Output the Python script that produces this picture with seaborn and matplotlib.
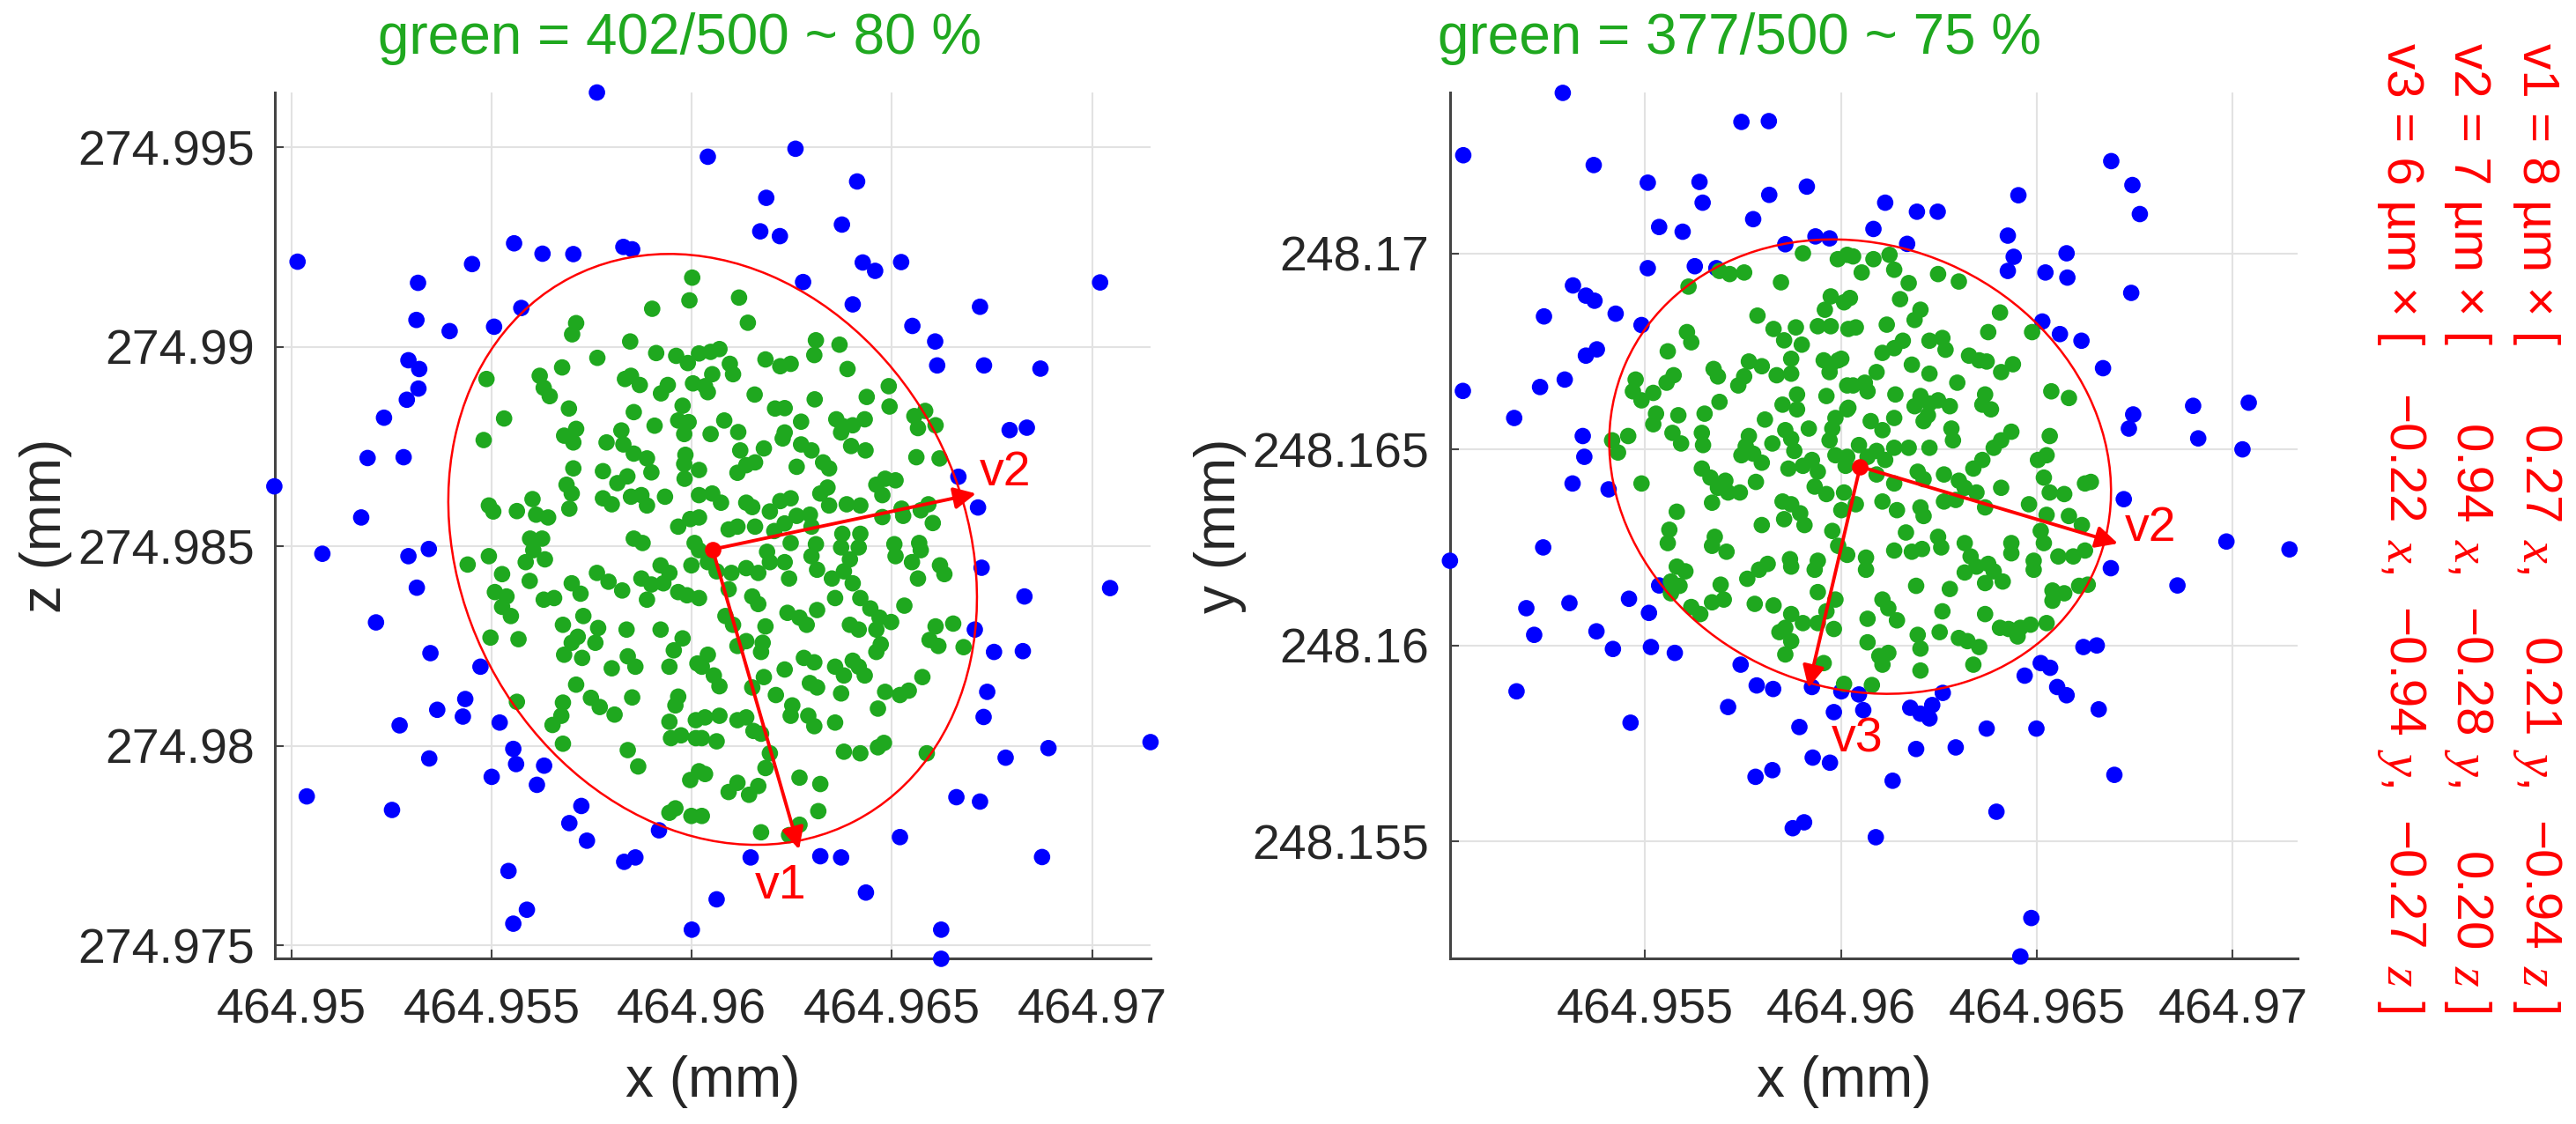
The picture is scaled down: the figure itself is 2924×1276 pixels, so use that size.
"""Point cloud with its fitted ellipsoid, seen in the x-z and x-y planes."""

import matplotlib
matplotlib.use("Agg")
import matplotlib.pyplot as plt
from matplotlib.patches import Ellipse
import pandas as pd
import seaborn as sns


# axis origins in mm; every point below is an offset from these, in µm
X0 = 464.95
Z0 = 274.975
Y0 = 248.155

# x-z view (left panel), (dx, dz) in µm
xz_outside = [
    (7.63, 21.37), (10.4, 19.76), (0.15, 17.13), (4.51, 17.07), (5.56, 17.59), (6.27, 17.33),
    (7.04, 17.32), (8.29, 17.50), (8.51, 17.44), (3.16, 16.60), (3.12, 15.67), (3.95, 15.39),
    (5.06, 15.50), (5.74, 15.97), (2.92, 14.66), (3.19, 14.44), (3.17, 13.95), (2.88, 13.67),
    (2.31, 13.22), (1.90, 12.21), (2.80, 12.23), (-0.43, 11.50), (1.74, 10.72),
    (0.77, 9.81), (2.92, 9.75), (3.43, 9.93), (3.13, 8.96), (2.11, 8.09), (3.47, 7.32),
    (4.72, 6.98), (4.34, 6.17), (3.64, 5.90), (4.28, 5.73), (2.70, 5.51), (5.20, 5.58),
    (5.54, 4.92), (5.61, 4.54), (6.31, 4.50), (3.44, 4.68), (5.00, 4.22), (6.13, 4.02),
    (0.38, 3.73), (2.51, 3.39), (7.24, 3.49), (6.94, 3.06), (7.38, 2.62), (9.18, 2.88),
    (8.31, 2.09), (8.59, 2.20), (5.42, 1.86), (5.88, 0.89), (5.54, 0.54), (10.0, 0.39),
    (10.62, 1.15),
    (12.59, 19.96), (14.13, 19.14), (11.86, 18.73), (11.71, 17.89), (12.20, 17.77), (13.75, 18.06),
    (14.27, 17.11), (14.58, 16.90), (15.23, 17.12), (12.78, 16.62), (20.20, 16.61), (14.02, 16.06),
    (17.20, 16.00), (15.51, 15.52), (16.08, 15.13), (16.13, 14.53), (17.30, 14.53), (18.71, 14.45),
    (17.94, 12.91), (18.37, 12.97), (16.66, 11.74), (17.15, 10.97),
    (17.24, 9.46), (18.31, 8.74), (20.45, 8.95), (17.07, 7.91), (17.55, 7.35), (18.27, 7.37),
    (17.38, 6.35), (17.29, 5.72), (18.91, 4.94), (21.46, 5.09), (17.84, 4.70), (16.61, 3.71),
    (17.20, 3.60), (15.20, 2.71), (18.75, 2.21), (11.47, 2.20), (13.21, 2.23), (13.73, 2.20),
    (14.35, 1.32), (16.23, 0.39), (16.23, -0.34),
]

xz_inside = [
    (10.01, 16.73), (9.94, 16.16), (9.01, 15.95), (7.11, 15.59), (7.01, 15.31), (8.46, 15.13),
    (9.11, 14.84), (9.61, 14.77), (9.90, 14.59), (10.18, 14.83), (7.64, 14.72), (6.76, 14.48),
    (6.20, 14.27), (6.30, 13.97), (6.45, 13.76), (4.87, 14.19), (8.33, 14.19), (8.48, 14.27),
    (8.70, 14.04), (9.40, 14.04), (9.23, 13.83), (10.03, 14.08), (9.77, 13.52), (6.93, 13.45),
    (8.55, 13.36), (9.07, 13.02), (9.66, 13.15), (9.92, 13.11), (9.81, 12.81), (5.31, 13.20),
    (4.80, 12.66), (6.81, 12.77), (7.11, 12.94), (7.04, 12.60), (8.24, 12.90), (8.29, 12.55),
    (7.87, 12.60), (8.55, 12.32), (8.88, 12.20), (8.99, 11.85), (9.84, 12.29), (9.81, 12.06),
    (9.82, 11.69), (7.04, 11.95), (6.87, 11.54), (7.00, 11.32), (6.94, 10.94), (7.78, 11.88),
    (8.14, 11.58), (8.39, 11.75), (7.78, 11.20), (8.00, 11.05), (8.48, 11.24), (8.74, 11.28),
    (8.88, 11.02), (9.33, 11.24), (10.18, 11.28), (4.93, 11.02), (5.04, 10.87), (5.63, 10.88),
    (6.02, 11.18), (6.11, 10.79), (6.41, 10.72), (9.66, 10.49), (9.96, 10.68), (10.18, 10.72),
    (5.96, 10.19), (6.26, 10.19), (8.55, 10.19), (8.77, 10.08), (10.07, 10.08),
    (11.18, 16.23), (11.40, 15.60), (13.10, 15.16), (13.06, 14.79), (13.69, 15.05), (13.89, 14.44),
    (10.69, 14.94), (10.47, 14.87), (10.95, 14.57), (11.03, 14.31), (10.51, 14.31), (10.33, 14.01),
    (10.40, 13.86), (11.84, 14.68), (12.21, 14.51), (12.47, 14.57), (11.57, 13.80), (13.07, 13.68),
    (14.37, 13.74), (14.92, 14.01), (14.94, 13.50), (12.08, 13.45), (12.32, 13.46), (10.81, 13.15),
    (12.73, 13.12), (13.61, 13.18), (13.80, 13.00), (14.02, 13.03), (14.32, 13.18), (13.73, 12.85),
    (15.56, 13.26), (15.83, 13.39), (15.65, 12.96), (16.09, 13.03), (10.47, 12.81), (11.16, 12.86),
    (12.32, 12.85), (12.27, 12.70), (12.73, 12.55), (12.99, 12.40), (11.21, 12.40), (11.80, 12.45),
    (11.58, 12.10), (11.36, 12.03), (11.14, 11.84), (12.62, 11.99), (13.28, 12.10), (13.43, 11.95),
    (13.98, 12.51), (14.34, 12.40), (15.61, 12.23), (16.19, 12.20), (14.61, 11.54), (14.83, 11.69),
    (15.09, 11.65), (14.76, 11.28), (10.18, 11.91), (10.51, 11.32), (10.73, 11.09), (11.36, 11.09),
    (11.51, 10.98), (11.95, 10.87), (12.21, 11.13), (12.47, 11.20), (12.62, 10.76), (12.95, 10.79),
    (13.21, 11.32), (13.39, 11.47), (13.43, 11.02), (13.87, 11.05), (14.21, 11.02), (14.76, 10.73),
    (15.24, 10.94), (15.28, 10.76), (15.72, 10.90), (16.02, 10.58), (15.91, 11.05), (10.92, 10.42),
    (11.14, 10.49), (11.58, 10.49), (12.06, 10.38), (12.32, 10.57), (12.99, 10.49), (13.76, 10.31),
    (14.21, 10.31), (12.47, 10.08), (13.10, 10.05), (15.68, 10.08), (15.06, 10.05),
    (4.40, 9.54), (4.93, 9.75), (5.26, 9.30), (5.85, 9.60), (6.04, 9.90), (6.33, 9.67),
    (5.95, 9.13), (7.00, 9.07), (7.22, 8.81), (7.63, 9.33), (7.92, 9.11), (8.26, 8.89),
    (8.74, 9.19), (8.99, 9.04), (8.88, 8.66), (9.22, 9.52), (9.44, 9.33), (9.29, 9.07),
    (9.66, 8.85), (9.88, 8.77), (9.99, 9.52), (5.08, 8.85), (5.37, 8.74), (5.26, 8.48),
    (5.48, 8.25), (6.30, 8.66), (6.56, 8.70), (6.78, 8.03), (7.29, 8.25), (7.66, 7.95),
    (7.59, 7.58), (7.15, 7.73), (7.00, 7.58), (6.81, 7.28), (7.26, 7.20), (8.37, 7.91),
    (9.22, 7.91), (9.77, 7.69), (9.55, 7.39), (9.44, 6.98), (4.97, 7.71), (5.67, 7.67),
    (8.00, 6.94), (8.40, 7.24), (8.59, 6.98), (7.11, 6.53), (7.48, 6.20), (7.70, 5.97),
    (8.07, 5.78), (8.51, 6.21), (6.78, 6.08), (6.74, 5.75), (6.52, 5.52), (6.78, 5.05),
    (9.66, 6.23), (9.59, 6.01), (9.44, 5.60), (9.48, 5.19), (9.73, 5.26), (10.10, 5.64),
    (10.14, 7.06), (10.10, 5.19), (5.63, 6.10), (8.40, 4.89), (8.66, 4.48), (9.96, 4.14),
    (10.18, 4.36), (9.44, 3.32), (9.59, 3.43), (9.99, 3.24),
    (10.18, 9.90), (10.40, 9.60), (10.62, 9.37), (10.99, 9.33), (11.36, 9.45), (11.66, 9.33),
    (11.95, 9.60), (11.88, 9.86), (12.32, 9.60), (12.43, 9.19), (12.99, 9.75), (13.13, 9.41),
    (13.50, 9.19), (13.80, 9.37), (13.95, 9.67), (13.73, 9.97), (14.17, 9.97), (14.02, 9.07),
    (14.21, 8.70), (14.46, 8.44), (14.69, 8.21), (14.98, 8.10), (14.61, 7.91), (14.17, 7.91),
    (13.95, 8.03), (13.58, 8.70), (15.09, 9.75), (15.50, 9.60), (15.65, 9.19), (15.72, 9.90),
    (16.20, 9.52), (16.31, 9.30), (15.31, 8.51), (16.09, 7.99), (16.53, 8.06), (15.94, 7.65),
    (16.16, 7.50), (16.79, 7.47), (10.18, 8.70), (10.92, 8.92), (11.51, 8.74), (11.66, 8.55),
    (10.84, 8.25), (11.03, 8.03), (11.84, 7.99), (12.39, 8.33), (12.69, 8.21), (12.87, 8.03),
    (13.13, 8.40), (11.14, 7.50), (11.36, 7.62), (11.77, 7.58), (11.73, 7.35), (10.40, 7.28),
    (10.25, 6.98), (10.55, 6.76), (10.69, 6.49), (12.32, 6.91), (12.80, 7.20), (13.06, 7.09),
    (13.58, 6.98), (14.02, 7.13), (14.17, 6.98), (13.80, 6.76), (14.32, 6.76), (14.61, 7.35),
    (14.72, 7.54), (11.51, 6.46), (11.80, 6.72), (12.10, 6.27), (12.95, 6.57), (13.13, 6.46),
    (13.73, 6.31), (14.83, 6.35), (15.20, 6.27), (15.42, 6.38), (15.76, 6.72), (14.65, 5.93),
    (12.51, 6.01), (12.47, 5.75), (12.91, 5.75), (13.06, 5.49), (13.58, 5.58), (10.33, 5.71),
    (10.69, 5.75), (11.14, 5.64), (11.36, 5.71), (11.54, 5.37), (11.73, 5.30), (10.25, 5.19),
    (10.62, 5.11), (13.80, 4.85), (14.21, 4.81), (14.65, 4.96), (14.80, 5.07), (15.87, 4.81),
    (11.95, 4.81), (11.84, 4.44), (10.33, 4.29), (11.14, 4.07), (10.92, 3.84), (11.43, 3.77),
    (11.66, 3.99), (12.69, 4.20), (13.21, 4.04), (10.25, 3.24), (13.16, 3.36), (11.73, 2.83),
    (12.43, 2.76), (12.69, 3.02),
]

# x-y view (right panel), (dx, dy) in µm
xy_outside = [
    (2.90, 19.09), (0.36, 17.50), (3.69, 17.25), (5.07, 16.80), (6.39, 16.82), (6.47, 16.29),
    (7.46, 18.35), (8.16, 18.37), (8.17, 16.49), (9.13, 16.70), (7.76, 15.87), (5.36, 15.67),
    (5.96, 15.55), (8.58, 15.23), (9.35, 15.43), (9.71, 15.38), (5.07, 14.62), (6.27, 14.67),
    (6.82, 14.62), (3.16, 14.18), (3.49, 13.92), (3.71, 13.79), (2.42, 13.39), (4.25, 13.46),
    (4.91, 13.17), (3.77, 12.55), (3.49, 12.39), (0.35, 11.49), (2.32, 11.59), (2.95, 11.78),
    (1.66, 10.80), (3.41, 10.34), (3.45, 9.81), (3.15, 9.13), (4.07, 8.98),
    (0.02, 7.16), (2.40, 7.50), (1.97, 5.95), (3.07, 6.08), (2.17, 5.27), (3.76, 5.36),
    (4.18, 4.91), (4.59, 6.19), (5.10, 5.83), (5.15, 4.96), (5.76, 4.81), (5.36, 6.53),
    (1.72, 3.83), (4.63, 3.03), (7.44, 4.51), (7.85, 3.98), (8.27, 3.89), (7.12, 3.43),
    (9.26, 3.94), (10.01, 3.83), (9.82, 3.30), (8.94, 2.92), (9.28, 2.14), (9.72, 2.01),
    (7.82, 1.65), (8.25, 1.82), (8.77, 0.34), (9.06, 0.49),
    (10.46, 3.75), (10.57, 3.35), (11.77, 3.41), (12.03, 3.26), (12.26, 3.14), (12.33, 3.48),
    (12.60, 3.79), (11.92, 2.36), (12.93, 2.40), (13.72, 2.88), (11.32, 1.55), (10.89, 0.11),
    (13.97, 0.76), (14.69, 4.23), (14.99, 2.88), (15.10, 4.55), (15.34, 4.43), (15.52, 3.94),
    (15.76, 3.73), (16.19, 4.96), (16.53, 5.00), (16.58, 3.37), (16.98, 1.70), (16.89, 6.97),
    (18.59, 6.53), (14.86, -1.95), (14.58, -2.93),
    (11.13, 16.29), (11.94, 16.06), (12.47, 16.06), (10.83, 15.62), (11.69, 15.24), (14.53, 16.48),
    (14.26, 15.45), (14.41, 14.91), (14.26, 14.55), (15.22, 14.51), (15.76, 15.00), (15.78, 14.38),
    (16.90, 17.35), (17.44, 16.74), (17.63, 16.00), (17.41, 13.99), (15.14, 13.26), (15.59, 12.94),
    (16.14, 12.77), (16.69, 12.07), (18.99, 11.11), (20.41, 11.19), (17.46, 10.89), (17.35, 10.53),
    (19.12, 10.28), (20.25, 10.00), (17.22, 8.73), (19.84, 7.65), (21.45, 7.45),
]

xy_inside = [
    (9.03, 15.00), (9.92, 14.85), (10.16, 14.96), (8.47, 14.26), (6.90, 14.55), (7.16, 14.47),
    (7.53, 14.51), (6.11, 14.15), (9.74, 13.90), (10.08, 13.75), (9.59, 13.56), (7.87, 13.41),
    (8.28, 13.07), (8.85, 13.11), (9.41, 13.14), (9.74, 13.14), (10.19, 13.07), (8.55, 12.78),
    (9.00, 12.67), (6.07, 12.99), (6.18, 12.73), (5.58, 12.50), (8.73, 12.31), (9.56, 12.27),
    (9.74, 12.16), (9.93, 12.27), (9.71, 11.97), (6.75, 12.05), (6.86, 11.86), (7.65, 12.24),
    (7.98, 12.12), (8.36, 11.89), (8.73, 11.93), (7.53, 11.86), (7.38, 11.63), (5.73, 11.89),
    (5.55, 11.70), (4.76, 11.78), (4.69, 11.48), (4.91, 11.25), (5.21, 11.44), (6.90, 11.21),
    (8.88, 11.40), (8.51, 11.14), (8.88, 11.02), (9.63, 11.36), (10.19, 11.06), (10.16, 11.63),
    (5.28, 10.91), (5.21, 10.64), (5.85, 10.87), (6.52, 10.91), (8.06, 10.76), (9.86, 10.80),
    (9.78, 10.53), (8.58, 10.49), (8.73, 10.27), (9.18, 10.53), (7.65, 10.34), (7.57, 10.08),
    (7.76, 9.89), (7.98, 9.66), (8.25, 10.15), (7.46, 9.85), (9.71, 10.23), (9.86, 9.85),
    (9.26, 9.73), (8.81, 9.96), (9.03, 9.58), (8.66, 9.51), (9.41, 9.43), (10.12, 9.58),
    (4.16, 10.23), (4.57, 10.34), (4.31, 9.92), (5.70, 10.42), (5.92, 10.15), (6.45, 10.42),
    (6.48, 10.11), (6.45, 9.51), (6.67, 9.28), (7.05, 9.20), (6.86, 9.02), (7.12, 8.90),
    (7.42, 8.90), (7.83, 9.17), (9.33, 9.05), (9.63, 8.86), (10.08, 8.90), (4.91, 9.13),
    (6.71, 8.64), (8.51, 8.67), (8.73, 8.60), (8.96, 8.37), (9.07, 8.07), (8.55, 8.22),
    (7.98, 8.07), (5.81, 8.41), (5.62, 7.95), (6.78, 7.77), (9.78, 7.92), (10.01, 8.45),
    (10.31, 14.92), (10.83, 14.85), (11.24, 14.96), (10.53, 14.51), (11.36, 14.58), (11.73, 14.24),
    (12.48, 14.47), (13.01, 14.28), (10.23, 13.86), (11.51, 13.83), (12.03, 13.56), (11.88, 13.30),
    (10.38, 13.11), (11.17, 13.18), (14.06, 13.49), (13.76, 12.99), (14.88, 12.99), (11.58, 12.77),
    (11.36, 12.58), (11.06, 12.46), (12.26, 12.77), (12.59, 12.84), (12.67, 12.54), (11.81, 12.16),
    (13.27, 12.39), (13.53, 12.27), (13.72, 12.24), (14.09, 11.97), (14.39, 12.17), (10.01, 12.31),
    (10.91, 11.97), (10.61, 11.70), (10.31, 11.63), (10.68, 11.48), (12.26, 11.93), (12.97, 11.70),
    (11.39, 11.40), (12.03, 11.36), (12.26, 11.17), (12.48, 11.25), (12.78, 11.10), (11.88, 11.10),
    (12.22, 10.87), (12.11, 10.72), (13.68, 11.40), (13.61, 11.14), (13.83, 11.02), (10.16, 11.02),
    (10.76, 10.72), (11.36, 10.80), (11.06, 10.49), (12.82, 10.53), (12.86, 10.23), (14.35, 10.45),
    (14.09, 10.23), (13.90, 10.04), (15.33, 10.34), (15.37, 11.48), (15.82, 11.31), (10.46, 10.11),
    (10.91, 9.96), (11.36, 10.04), (11.73, 10.04), (12.26, 10.04), (10.16, 9.81), (10.68, 9.81),
    (11.13, 9.73), (11.96, 9.43), (12.11, 9.24), (10.91, 9.36), (11.36, 9.13), (12.63, 9.36),
    (13.01, 9.20), (13.16, 9.02), (13.61, 9.73), (13.38, 9.51), (12.93, 8.71), (13.46, 8.90),
    (13.68, 8.52), (14.09, 9.02), (15.03, 9.73), (15.25, 9.85), (15.18, 9.28), (15.33, 8.90),
    (15.70, 8.86), (16.23, 9.13), (16.38, 9.17), (11.06, 8.67), (10.38, 8.60), (11.43, 8.45),
    (12.03, 8.52), (12.11, 8.30), (12.63, 8.67), (14.80, 8.60), (15.25, 8.33), (15.82, 8.30),
    (16.15, 8.07), (15.10, 7.92), (11.66, 7.88), (12.48, 7.77), (14.35, 7.61), (13.16, 7.61),
    (5.58, 7.61), (6.71, 7.54), (7.08, 7.39), (5.81, 7.01), (6.03, 6.89), (5.66, 6.63),
    (5.88, 6.52), (5.66, 6.33), (6.18, 5.98), (6.41, 5.80), (6.71, 6.10), (6.93, 6.55),
    (7.01, 6.17), (7.61, 6.70), (7.91, 6.93), (8.13, 7.08), (8.70, 7.20), (8.73, 7.01),
    (9.41, 7.16), (9.33, 6.93), (7.80, 6.06), (8.28, 6.02), (8.73, 5.80), (8.58, 5.45),
    (9.03, 5.57), (9.41, 5.57), (8.43, 5.34), (8.73, 5.11), (9.41, 6.36), (9.63, 5.87),
    (9.86, 6.17), (9.82, 5.42), (8.58, 4.77), (9.56, 4.55), (10.08, 4.02), (9.93, 7.54),
    (10.16, 7.31), (10.64, 7.24), (10.64, 6.93), (11.36, 7.42), (11.81, 7.39), (12.07, 7.46),
    (12.56, 7.50), (13.31, 7.27), (13.46, 7.01), (13.16, 6.86), (13.76, 7.08), (13.90, 6.89),
    (13.68, 6.59), (14.13, 6.63), (14.35, 7.35), (14.92, 7.16), (14.92, 6.93), (15.18, 7.61),
    (15.55, 7.27), (15.93, 7.27), (16.23, 7.42), (15.40, 6.40), (15.70, 6.33), (16.08, 6.52),
    (16.30, 6.55), (15.40, 6.14), (11.92, 6.52), (12.78, 6.44), (11.06, 6.17), (11.21, 5.95),
    (11.43, 5.64), (10.68, 5.68), (12.59, 5.87), (13.68, 5.80), (14.06, 5.45), (14.28, 5.42),
    (14.58, 5.45), (14.84, 5.53), (14.51, 5.23), (15.25, 5.57), (10.68, 5.08), (10.98, 4.73),
    (11.21, 4.81), (11.06, 4.51), (11.96, 5.27), (12.03, 4.92), (12.52, 5.34), (13.01, 5.19),
    (13.23, 5.11), (13.53, 4.96), (13.38, 4.51), (12.03, 4.36), (10.79, 3.99),
]

# principal axes of the fitted ellipsoid
axis_names = ["v1", "v2", "v3"]
axis_len_um = [8, 7, 6]
axis_x = [0.27, 0.94, -0.22]
axis_y = [0.21, -0.28, -0.94]
axis_z = [-0.94, 0.20, -0.27]

# mean point and projected outline per view: (dx, dv) µm, (width µm, height µm, angle deg)
xz_center = (10.52, 9.92)
xz_outline = (15.36, 12.56, 117.5)
xy_center = (10.49, 9.56)
xy_outline = (13.08, 11.28, -23.6)

titles = ["green = 402/500 ~ 80 %", "green = 377/500 ~ 75 %"]
xz_xticks = [464.95, 464.955, 464.96, 464.965, 464.97]
xz_zticks = [274.975, 274.98, 274.985, 274.99, 274.995]
xy_xticks = [464.955, 464.96, 464.965, 464.97]
xy_yticks = [248.155, 248.16, 248.165, 248.17]
xz_limits = ((464.94959, 464.97145), (274.97467, 274.99637))
xy_limits = ((464.950024, 464.971657), (248.15202, 248.17410))

BLUE = "#0000ff"
GREEN = "#1fa81f"
RED = "#ff0000"
INK = "#262626"

sns.set_style("whitegrid")
plt.rcParams["font.family"] = ["Liberation Sans", "DejaVu Sans"]
plt.rcParams["mathtext.fontset"] = "custom"
plt.rcParams["mathtext.it"] = "Liberation Serif:italic"
plt.rcParams["mathtext.rm"] = "Liberation Sans"

W, H = 2924, 1276


def draw_view(ax, outside, inside, v0, center, outline, shown, comp_v, limits,
              xticks, vticks, vlabel, label_offsets, xlabel_x, ylabel_x):
    pts = pd.DataFrame(outside + inside, columns=["dx", "dv"])
    pts["kind"] = ["out"] * len(outside) + ["in"] * len(inside)
    pts["h"] = X0 + pts["dx"] / 1000
    pts["v"] = v0 + pts["dv"] / 1000
    sns.scatterplot(data=pts, x="h", y="v", hue="kind", palette={"out": BLUE, "in": GREEN},
                    s=180, linewidth=0, legend=False, ax=ax, zorder=3, clip_on=False)

    cx = X0 + center[0] / 1000
    cy = v0 + center[1] / 1000
    w, h, ang = outline
    ax.add_patch(Ellipse((cx, cy), w / 1000, h / 1000, angle=ang, fill=False,
                         ec=RED, lw=1.8, zorder=4))

    for i, off in zip(shown, label_offsets):
        ex = cx + axis_len_um[i] * axis_x[i] / 1000
        ey = cy + axis_len_um[i] * comp_v[i] / 1000
        ax.annotate("", xy=(ex, ey), xytext=(cx, cy), zorder=5,
                    arrowprops=dict(arrowstyle="-|>,head_length=0.5,head_width=0.25",
                                    color=RED, lw=2.8, mutation_scale=30,
                                    shrinkA=0, shrinkB=0))
        ax.annotate(axis_names[i], xy=(ex, ey), xytext=off, textcoords="offset points",
                    ha="center", va="center", fontsize=40, color=RED, zorder=6)
    ax.scatter([cx], [cy], s=180, color=RED, linewidth=0, zorder=6)

    ax.set_xlim(*limits[0])
    ax.set_ylim(*limits[1])
    ax.set_xticks(xticks, labels=[f"{t:g}" for t in xticks])
    ax.set_yticks(vticks, labels=[f"{t:g}" for t in vticks])
    ax.grid(True, color="#e2e2e2", lw=1.5)
    ax.set_axisbelow(True)
    for side in ["top", "right"]:
        ax.spines[side].set_visible(False)
    for side in ["left", "bottom"]:
        ax.spines[side].set_color("#444444")
        ax.spines[side].set_linewidth(2.2)
    ax.tick_params(bottom=True, left=True, direction="in", length=7, width=1.5,
                   colors="#444444", labelcolor=INK, labelsize=40)
    ax.tick_params(axis="x", pad=24)
    ax.tick_params(axis="y", pad=17)
    ax.set_xlabel("x (mm)", fontsize=46, color=INK)
    ax.set_ylabel(vlabel, fontsize=46, color=INK)
    ax.xaxis.set_label_coords(xlabel_x, -0.112)
    ax.yaxis.set_label_coords(ylabel_x, 0.5)


fig = plt.figure(figsize=(W / 100, H / 100), dpi=100)
ax_l = fig.add_axes([312.3 / W, 188 / H, 993.2 / W, 983 / H])
ax_r = fig.add_axes([1646 / W, 188 / H, 962 / W, 983 / H])

draw_view(ax_l, xz_outside, xz_inside, Z0, xz_center, xz_outline, [0, 1], axis_z,
          xz_limits, xz_xticks, xz_zticks, "z (mm)", [(-15, -30), (24, 17)], 0.5, -0.232)
draw_view(ax_r, xy_outside, xy_inside, Y0, xy_center, xy_outline, [1, 2], axis_y,
          xy_limits, xy_xticks, xy_yticks, "y (mm)", [(27, 12), (40, -42)], 0.465, -0.240)

fig.text(772 / W, 1 - 44 / H, titles[0], color=GREEN, fontsize=46, ha="center", va="center")
fig.text(1975 / W, 1 - 44 / H, titles[1], color=GREEN, fontsize=46, ha="center", va="center")

# vertical legend of the ellipsoid axes, read top to bottom
note_size = 42
shift = 0.358 * note_size * 100 / 72
line_x = [2885, 2807, 2731]
col_end = [596, 838, 1080]
tails = [" $x$,", " $y$,", " $z$ ]"]
note_kw = dict(rotation=-90, rotation_mode="anchor", va="baseline", color=RED,
               fontsize=note_size)
for i in range(3):
    bx = (line_x[i] - shift) / W
    fig.text(bx, 1 - 49 / H, f"{axis_names[i]} = {axis_len_um[i]} µm × [", ha="left", **note_kw)
    comps = [axis_x[i], axis_y[i], axis_z[i]]
    for c, end, tail in zip(comps, col_end, tails):
        fig.text(bx, 1 - end / H, f"{c:.2f}".replace("-", "\u2212"), ha="right", **note_kw)
        fig.text(bx, 1 - end / H, tail, ha="left", **note_kw)

fig.savefig("out.png", dpi=100, facecolor="white")
